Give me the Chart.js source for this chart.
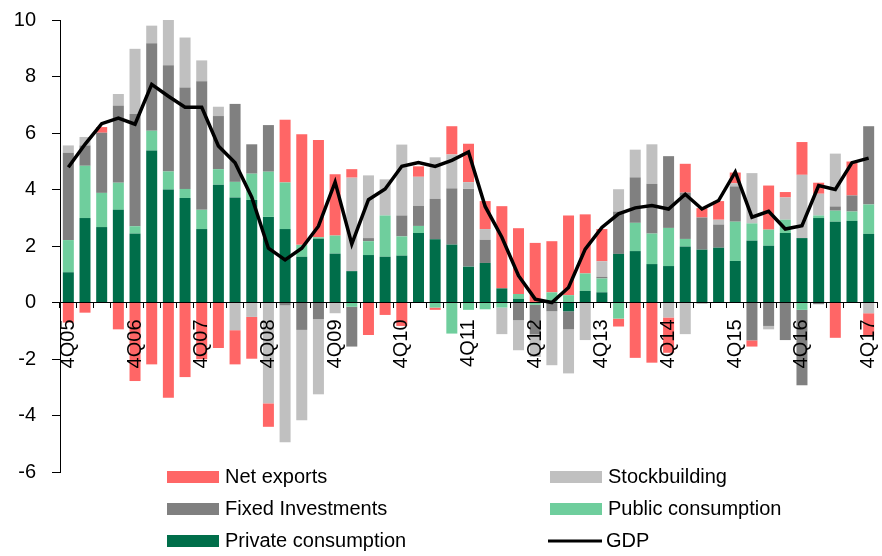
<!DOCTYPE html>
<html>
<head>
<meta charset="utf-8">
<script src="https://cdn.jsdelivr.net/npm/chart.js@4.4.0/dist/chart.umd.min.js"></script>
<style>
  html, body { margin: 0; padding: 0; background: #fff; }
  #wrap { width: 882px; height: 556px; }
</style>
</head>
<body>
<div id="wrap"><canvas id="gdpChart" width="882" height="556"></canvas></div>
<script>
// Contribuciones al crecimiento del PIB (pp)
const quarters = [
  '4Q05', '1Q06', '2Q06', '3Q06', '4Q06', '1Q07', '2Q07', '3Q07', '4Q07',
  '1Q08', '2Q08', '3Q08', '4Q08', '1Q09', '2Q09', '3Q09', '4Q09',
  '1Q10', '2Q10', '3Q10', '4Q10', '1Q11', '2Q11', '3Q11', '4Q11',
  '1Q12', '2Q12', '3Q12', '4Q12', '1Q13', '2Q13', '3Q13', '4Q13',
  '1Q14', '2Q14', '3Q14', '4Q14', '1Q15', '2Q15', '3Q15', '4Q15',
  '1Q16', '2Q16', '3Q16', '4Q16', '1Q17', '2Q17', '3Q17', '4Q17'
];

const privateConsumption = [
  1.07, 2.99, 2.67, 3.28, 2.44, 5.38, 4.00, 3.70, 2.60,
  4.17, 3.72, 3.63, 3.03, 2.60, 1.62, 2.26, 1.73,
  1.11, 1.68, 1.62, 1.66, 2.46, 2.24, 2.05, 1.27,
  1.40, 0.50, 0.13, 0.00, 0.00, -0.31, 0.41, 0.36,
  1.72, 1.82, 1.36, 1.29, 1.98, 1.87, 1.94, 1.47,
  2.19, 2.01, 2.46, 2.28, 2.99, 2.86, 2.89, 2.43
];
const publicConsumption = [
  1.14, 1.85, 1.21, 0.96, 0.26, 0.70, 0.64, 0.32, 0.68,
  0.55, 0.55, 0.93, 1.60, 1.65, 0.42, 0.05, 0.64,
  -0.15, 0.49, 1.46, 0.68, 0.25, -0.18, -1.10, -0.26,
  -0.24, -0.18, 0.17, -0.08, 0.36, 0.26, 0.62, 0.49,
  -0.57, 1.00, 1.08, 1.35, 0.27, 0.00, 0.00, 1.39,
  0.61, 0.57, 0.47, -0.26, 0.09, 0.39, 0.33, 1.04
];
const fixedInvestments = [
  3.09, 0.72, 2.13, 2.73, 3.97, 3.10, 3.76, 3.59, 4.55,
  1.88, 2.76, 1.04, 1.65, -0.10, -0.97, -0.59, 0.00,
  -1.41, 0.11, 0.00, 0.74, 0.71, 1.43, 1.99, 2.75,
  0.82, 0.00, -0.63, -1.05, -0.31, -0.64, 0.00, 0.06,
  1.50, 1.61, 1.76, 2.54, 1.64, 1.14, 0.82, 1.25,
  -1.34, -0.83, -1.33, -2.67, -0.06, 0.15, 0.57, 2.77
];
const stockbuilding = [
  0.26, 0.30, 0.00, 0.41, 2.31, 0.62, 1.62, 1.77, 0.74,
  0.33, -0.98, -0.51, -3.57, -4.85, -3.20, -2.66, -0.38,
  3.31, 2.22, 1.28, 2.51, 1.03, 1.47, 1.20, 0.24,
  0.38, -0.94, -1.06, -0.80, -1.91, -1.56, -1.33, 0.55,
  0.79, 0.98, 1.40, -0.53, -1.12, -0.05, 0.17, 0.11,
  1.78, -0.12, 0.79, 2.24, 0.77, 1.87, 0.00, -0.38
];
const netExports = [
  -0.71, -0.36, 0.20, -0.95, -2.78, -2.19, -3.37, -2.64, -2.01,
  -1.61, -1.21, -1.48, -0.83, 2.22, 3.92, 3.44, 2.17,
  0.30, -1.15, -0.44, -0.83, 0.37, -0.08, 1.00, 1.36,
  0.99, 2.91, 2.33, 2.11, 1.81, 2.82, 2.09, 1.14,
  -0.28, -1.96, -2.13, -1.25, 1.02, 0.33, 0.66, 0.38,
  -0.22, 1.56, 0.19, 1.16, 0.39, -1.25, 1.20, -0.80
];
const gdp = [
  4.79, 5.60, 6.33, 6.53, 6.31, 7.72, 7.30, 6.91, 6.91,
  5.54, 4.95, 3.73, 1.92, 1.51, 1.92, 2.70, 4.26,
  2.07, 3.64, 4.02, 4.82, 4.95, 4.82, 5.03, 5.33,
  3.40, 2.31, 0.95, 0.12, 0.00, 0.53, 1.89, 2.66,
  3.14, 3.35, 3.43, 3.31, 3.83, 3.31, 3.61, 4.62,
  3.02, 3.23, 2.60, 2.72, 4.14, 4.00, 4.95, 5.11
];

const yTicks = [10, 8, 6, 4, 2, 0, -2, -4, -6];

const FONT = '"Liberation Sans", Arial, sans-serif';

// leyenda dibujada a mano: dos columnas, tres filas
const legendPlugin = {
  id: 'boxLegend',
  afterDraw(chart) {
    const ctx = chart.ctx;
    const ds = chart.data.datasets;
    const slots = [
      [4, 167, 477], [3, 550, 477],
      [2, 167, 509], [1, 550, 509],
      [0, 167, 541], [5, 548, 541]
    ];
    ctx.save();
    ctx.font = '20px ' + FONT;
    ctx.textBaseline = 'middle';
    ctx.fillStyle = '#000';
    slots.forEach(([i, x, y]) => {
      const d = ds[i];
      if (d.type === 'line') {
        ctx.strokeStyle = d.borderColor;
        ctx.lineWidth = 3;
        ctx.beginPath();
        ctx.moveTo(x, y);
        ctx.lineTo(x + 54, y);
        ctx.stroke();
      } else {
        ctx.fillStyle = d.backgroundColor;
        ctx.fillRect(x, y - 6, 52, 12);
      }
      ctx.fillStyle = '#000';
      ctx.fillText(d.label, x + 58, y);
    });
    ctx.restore();
  }
};

const noPad = s => { s.paddingTop = 0; s.paddingBottom = 0; s.paddingLeft = 0; s.paddingRight = 0; };

const barOpts = { type: 'bar', order: 1, barPercentage: 0.66, categoryPercentage: 1, borderWidth: 0 };

new Chart(document.getElementById('gdpChart').getContext('2d'), {
  data: {
    labels: quarters,
    datasets: [
      { ...barOpts, label: 'Private consumption', data: privateConsumption, backgroundColor: '#006e4a' },
      { ...barOpts, label: 'Public consumption', data: publicConsumption, backgroundColor: '#6fce9d' },
      { ...barOpts, label: 'Fixed Investments', data: fixedInvestments, backgroundColor: '#808080' },
      { ...barOpts, label: 'Stockbuilding', data: stockbuilding, backgroundColor: '#c0c0c0' },
      { ...barOpts, label: 'Net exports', data: netExports, backgroundColor: '#ff6666' },
      {
        type: 'line', label: 'GDP', data: gdp, order: 0, stack: 'gdp',
        borderColor: '#000', borderWidth: 3.5, pointRadius: 0, tension: 0, fill: false
      }
    ]
  },
  options: {
    responsive: false,
    animation: false,
    devicePixelRatio: 1,
    layout: { padding: { top: 20, right: 5, bottom: 84, left: 0 } },
    plugins: {
      legend: { display: false },
      tooltip: { enabled: false }
    },
    scales: {
      x: {
        stacked: true,
        position: { y: 0 },
        offset: true,
        afterFit: noPad,
        grid: { offset: true, drawOnChartArea: false, drawTicks: true, tickLength: 5, color: '#000', z: 1 },
        border: { display: true, color: '#000', width: 1, z: 1 },
        ticks: {
          z: 1,
          autoSkip: false,
          minRotation: 90,
          maxRotation: 90,
          padding: 12,
          color: '#000',
          font: { family: FONT, size: 20 },
          callback: function (v, i) {
            const q = quarters[i];
            return q.startsWith('4Q') ? q : '';
          }
        }
      },
      y: {
        stacked: true,
        min: -6,
        max: 10,
        afterFit: s => { s.width = 60; noPad(s); },
        afterBuildTicks: s => { s.ticks = yTicks.map(v => ({ value: v })); },
        grid: { drawOnChartArea: false, drawTicks: true, tickLength: 8, color: '#000' },
        border: { display: true, color: '#000', width: 1 },
        ticks: {
          color: '#000',
          padding: 16,
          font: { family: FONT, size: 20 }
        }
      }
    }
  },
  plugins: [legendPlugin]
});
</script>
</body>
</html>
